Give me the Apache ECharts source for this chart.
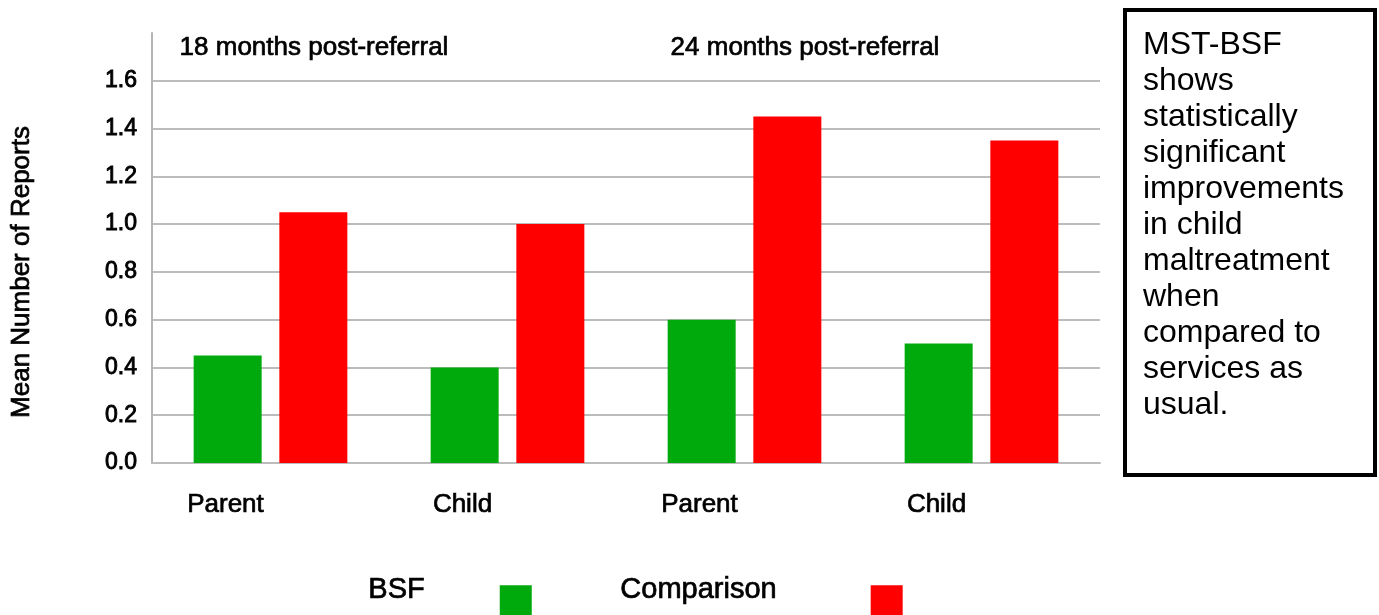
<!DOCTYPE html>
<html>
<head>
<meta charset="utf-8">
<title>Mean Number of Reports</title>
<script src="https://cdn.jsdelivr.net/npm/echarts@6/dist/echarts.min.js"></script>
<style>
  html, body { margin: 0; padding: 0; background: #fff; }
  #chart { width: 1379px; height: 615px; }
</style>
</head>
<body>
<div id="chart"></div>
<script>
// data
const categories = ['Parent', 'Child', 'Parent', 'Child'];
const bsfValues = [0.45, 0.40, 0.60, 0.50];
const comparisonValues = [1.05, 1.00, 1.45, 1.35];
const periodLabels = ['18 months post-referral', '24 months post-referral'];
const noteLines = [
  'MST-BSF', 'shows', 'statistically', 'significant', 'improvements',
  'in child', 'maltreatment', 'when', 'compared to', 'services as', 'usual.'
];

const FONT = '"Liberation Sans", Arial, sans-serif';
const GREEN = '#00aa0c';
const RED = '#ff0000';
const GRID_GRAY = '#bcbcbc';
// thin outline to get the heavier look of the original text
const heavy = { textBorderColor: '#000', textBorderWidth: 0.7 };

const chart = echarts.init(document.getElementById('chart'), null, { renderer: 'canvas' });

// legend: name sits a little above the square, with a wide gap before it
function legendFor(name, left, gap) {
  return {
    data: [name],
    left: left,
    top: 575,
    padding: 0,
    align: 'right',
    itemWidth: 32,
    itemHeight: 32,
    icon: 'rect',
    selectedMode: false,
    formatter: n => '{t|' + n + '}{s|}',
    textStyle: {
      fontFamily: FONT,
      color: '#000',
      rich: {
        t: Object.assign({
          fontSize: 29, fontFamily: FONT, color: '#000',
          lineHeight: 34, verticalAlign: 'top'
        }, heavy),
        s: { width: gap, height: 52 }
      }
    }
  };
}

const option = {
  backgroundColor: '#fff',
  animation: false,
  textStyle: { fontFamily: FONT, color: '#000' },
  grid: {
    left: 152,
    right: 279,
    top: 33,
    bottom: 152,
    outerBoundsMode: 'none'
  },
  legend: [
    legendFor('BSF', 368, 70),
    legendFor('Comparison', 620, 89)
  ],
  xAxis: {
    type: 'category',
    data: categories,
    axisLine: { show: true, lineStyle: { color: GRID_GRAY, width: 2 } },
    axisTick: { show: false },
    axisLabel: Object.assign({
      fontSize: 26,
      color: '#000',
      margin: 29,
      padding: [0, 90, 0, 0]
    }, heavy)
  },
  yAxis: {
    type: 'value',
    min: 0,
    max: 1.8,
    interval: 0.2,
    axisLine: { show: true, lineStyle: { color: '#b5b5b5', width: 2 } },
    axisTick: { show: false },
    axisLabel: {
      fontSize: 23,
      color: '#000',
      margin: 15,
      textBorderColor: '#000',
      textBorderWidth: 0.9,
      formatter: v => (v > 1.7 ? '' : v.toFixed(1))
    },
    splitLine: {
      show: true,
      showMaxLine: false,
      lineStyle: { color: GRID_GRAY, width: 2 }
    }
  },
  series: [
    {
      name: 'BSF',
      type: 'bar',
      data: bsfValues,
      barWidth: 68,
      barGap: '26%',
      itemStyle: { color: GREEN }
    },
    {
      name: 'Comparison',
      type: 'bar',
      data: comparisonValues,
      barWidth: 68,
      itemStyle: { color: RED }
    }
  ],
  graphic: [
    {
      type: 'text',
      x: 22,
      y: 272,
      rotation: Math.PI / 2,
      style: {
        text: 'Mean Number of Reports',
        font: '26px ' + FONT,
        fill: '#000',
        stroke: '#000',
        lineWidth: 0.7,
        align: 'center',
        verticalAlign: 'middle'
      }
    },
    {
      type: 'text',
      x: 314,
      y: 48,
      style: {
        text: periodLabels[0],
        font: '26px ' + FONT,
        fill: '#000',
        stroke: '#000',
        lineWidth: 0.7,
        align: 'center',
        verticalAlign: 'middle'
      }
    },
    {
      type: 'text',
      x: 805,
      y: 48,
      style: {
        text: periodLabels[1],
        font: '26px ' + FONT,
        fill: '#000',
        stroke: '#000',
        lineWidth: 0.7,
        align: 'center',
        verticalAlign: 'middle'
      }
    },
    {
      type: 'rect',
      shape: { x: 1125, y: 10, width: 250, height: 465 },
      style: { fill: '#fff', stroke: '#000', lineWidth: 4 }
    },
    {
      type: 'text',
      x: 1143,
      y: 27,
      style: {
        text: noteLines.join('\n'),
        font: '32px ' + FONT,
        lineHeight: 36,
        fill: '#000',
        align: 'left',
        verticalAlign: 'top'
      }
    }
  ]
};

chart.setOption(option);
</script>
</body>
</html>
